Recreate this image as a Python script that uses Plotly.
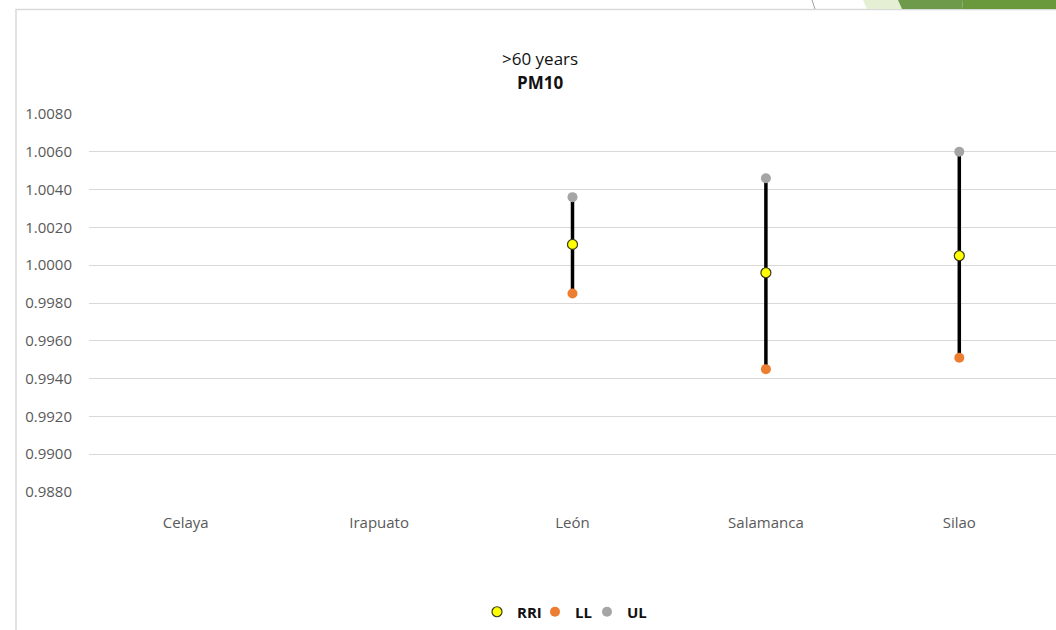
import plotly.graph_objects as go

# Relative risk by city, PM10, population >60 years
cities = ["Celaya", "Irapuato", "León", "Salamanca", "Silao"]
rri = [None, None, 1.0011, 0.9996, 1.0005]
ll = [None, None, 0.9985, 0.9945, 0.9951]
ul = [None, None, 1.0036, 1.0046, 1.0060]
y_ticks = [0.9880, 0.9900, 0.9920, 0.9940, 0.9960, 0.9980,
           1.0000, 1.0020, 1.0040, 1.0060, 1.0080]

W, H = 1056, 630
ML, MR, MT, MB = 89, 0, 114, 138
PW, PH = W - ML - MR, H - MT - MB


def px(x):
    return (x - ML) / PW


def py(y):
    return (H - MB - y) / PH


FONT = "Open Sans, Roboto, sans-serif"

# high-low connector segments built from the LL/UL series
seg_x, seg_y = [], []
for c, lo, hi in zip(cities, ll, ul):
    if lo is None or hi is None:
        continue
    seg_x += [c, c, None]
    seg_y += [lo, hi, None]

fig = go.Figure()
fig.add_trace(go.Scatter(x=seg_x, y=seg_y, mode="lines",
                         line=dict(color="#000000", width=3.5),
                         showlegend=False, hoverinfo="skip"))
fig.add_trace(go.Scatter(x=cities, y=rri, mode="markers", name="RRI",
                         legend="legend",
                         marker=dict(color="#FFFF00", size=10,
                                     line=dict(color="#3a3a1a", width=1.2))))
fig.add_trace(go.Scatter(x=cities, y=ll, mode="markers", name="LL",
                         legend="legend2",
                         marker=dict(color="#ED7D31", size=10)))
fig.add_trace(go.Scatter(x=cities, y=ul, mode="markers", name="UL",
                         legend="legend3",
                         marker=dict(color="#A5A5A5", size=10)))

shapes = [
    # chart frame
    dict(type="rect", xref="paper", yref="paper",
         x0=px(16), x1=px(1070), y0=py(650), y1=py(9.5),
         line=dict(color="#d9d9d9", width=1.5), fillcolor="rgba(0,0,0,0)"),
    # slide decoration along the top edge
    dict(type="path", xref="paper", yref="paper",
         path=f"M{px(863)},{py(0)} L{px(898)},{py(0)} L{px(902)},{py(9)} L{px(867)},{py(9)} Z",
         fillcolor="#E5EFD3", line=dict(width=0)),
    dict(type="path", xref="paper", yref="paper",
         path=f"M{px(898)},{py(0)} L{px(963)},{py(0)} L{px(962)},{py(9)} L{px(902)},{py(9)} Z",
         fillcolor="#6E9A4C", line=dict(width=0)),
    dict(type="path", xref="paper", yref="paper",
         path=f"M{px(963)},{py(0)} L{px(1056)},{py(0)} L{px(1056)},{py(9)} L{px(962)},{py(9)} Z",
         fillcolor="#69993C", line=dict(width=0)),
    dict(type="line", xref="paper", yref="paper",
         x0=px(812), y0=py(0), x1=px(815), y1=py(9),
         line=dict(color="#a0a0a0", width=1)),
]

annotations = [
    dict(text=">60 years", xref="paper", yref="paper", x=px(540), y=py(59),
         showarrow=False, xanchor="center", yanchor="middle",
         font=dict(family=FONT, size=17, color="#111111")),
    dict(text="<b>PM10</b>", xref="paper", yref="paper", x=px(540), y=py(82),
         showarrow=False, xanchor="center", yanchor="middle",
         font=dict(family=FONT, size=17, color="#111111")),
]

legend_style = dict(orientation="h", xanchor="left", yanchor="middle",
                    y=py(612), itemwidth=30, bgcolor="rgba(0,0,0,0)",
                    font=dict(family=FONT, size=15, color="#111111",
                              weight="bold"))

fig.update_layout(
    width=W, height=H,
    margin=dict(l=ML, r=MR, t=MT, b=MB),
    paper_bgcolor="white", plot_bgcolor="white",
    showlegend=True,
    legend=dict(x=px(477), **legend_style),
    legend2=dict(x=px(535), **legend_style),
    legend3=dict(x=px(587), **legend_style),
    shapes=shapes,
    annotations=annotations,
    xaxis=dict(type="category", categoryorder="array", categoryarray=cities,
               range=[-0.5, 4.5], showgrid=False, zeroline=False,
               showline=False, ticks="", ticklabelstandoff=20,
               tickfont=dict(family=FONT, size=15, color="#595959")),
    yaxis=dict(range=[0.9880, 1.0080], tickvals=y_ticks,
               ticktext=[f"{v:.4f}" for v in y_ticks],
               showgrid=True, gridcolor="#d9d9d9", gridwidth=1,
               zeroline=False, showline=False, ticks="",
               ticklabelstandoff=16,
               tickfont=dict(family=FONT, size=15, color="#595959")),
)

fig.write_html("out.html")
